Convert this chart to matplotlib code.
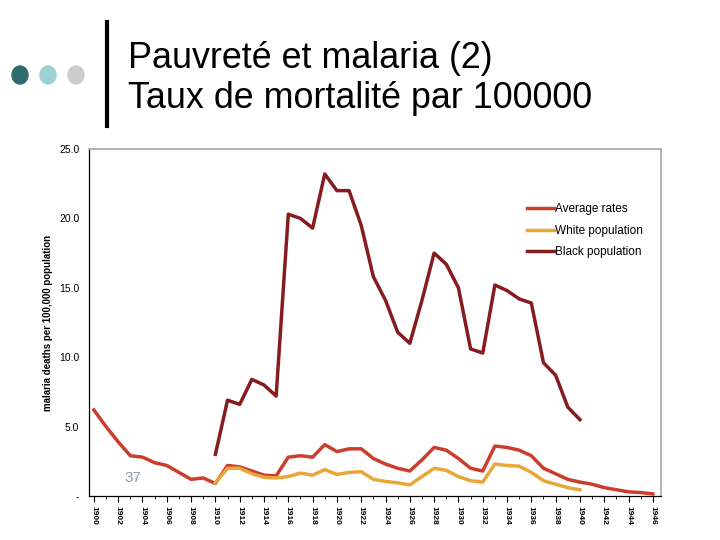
import numpy as np
import matplotlib.pyplot as plt
from matplotlib.patches import Ellipse
from matplotlib.lines import Line2D

plt.rcParams['font.family'] = ['Liberation Sans', 'DejaVu Sans']

years_avg = list(range(1900, 1947))
avg_rates = [6.2, 5.0, 3.9, 2.9, 2.8, 2.4, 2.2, 1.7, 1.2, 1.3,
             0.9, 2.2, 2.1, 1.8, 1.5, 1.45, 2.8, 2.9, 2.8, 3.7,
             3.2, 3.4, 3.4, 2.7, 2.3, 2.0, 1.8, 2.6, 3.5, 3.3,
             2.7, 2.0, 1.8, 3.6, 3.5, 3.3, 2.9, 2.0, 1.6, 1.2,
             1.0, 0.85, 0.6, 0.45, 0.3, 0.25, 0.15]

years_pop = list(range(1910, 1941))
white_pop = [0.95, 2.0, 2.0, 1.6, 1.35, 1.3, 1.4, 1.65, 1.5, 1.9,
             1.55, 1.7, 1.75, 1.2, 1.05, 0.95, 0.8, 1.4, 2.0, 1.85,
             1.4, 1.1, 1.0, 2.3, 2.2, 2.15, 1.7, 1.1, 0.85, 0.6,
             0.45]
black_pop = [3.0, 6.9, 6.6, 8.4, 8.0, 7.2, 20.3, 20.0, 19.3, 23.2,
             22.0, 22.0, 19.5, 15.8, 14.1, 11.8, 11.0, 14.1, 17.5, 16.7,
             15.0, 10.6, 10.3, 15.2, 14.8, 14.2, 13.9, 9.6, 8.7, 6.4,
             5.5]

yticks = [0, 5, 10, 15, 20, 25]
ytick_labels = ['-', '5.0', '10.0', '15.0', '20.0', '25.0']
xtick_major = list(range(1900, 1947, 2))

c_avg = '#cc3d2e'
c_white = '#e8a838'
c_black = '#861c1f'

fig = plt.figure(figsize=(7.2, 5.4), dpi=100)

# slide header decorations
deco = fig.add_axes([0, 0, 1, 1])
deco.set_xlim(0, 720)
deco.set_ylim(540, 0)
deco.axis('off')
for cx, col in [(20, '#2f6a6d'), (48, '#9fd0d4'), (76, '#cccccc')]:
    deco.add_patch(Ellipse((cx, 75), 16, 18, color=col))
deco.add_line(Line2D([107, 107], [22, 126], color='black', lw=3))
deco.text(128, 58, 'Pauvreté et malaria (2)', fontsize=25.8, va='center', ha='left')
deco.text(128, 99, 'Taux de mortalité par 100000', fontsize=25.8, va='center', ha='left')

ax = fig.add_axes([89/720, 44/540, 572/720, 347/540])
ax.plot(years_avg, avg_rates, color=c_avg, lw=2.5, label='Average rates')
ax.plot(years_pop, white_pop, color=c_white, lw=2.5, label='White population')
ax.plot(years_pop, black_pop, color=c_black, lw=2.5, label='Black population')

ax.set_xlim(1899.6, 1946.67)
ax.set_ylim(0, 25)
ax.set_yticks(yticks)
ax.set_yticklabels(ytick_labels, fontsize=7.5)
ax.set_xticks(xtick_major)
ax.set_xticklabels([str(y) for y in xtick_major], rotation=270, fontsize=6,
                   fontweight='bold')
ax.set_xticks(range(1900, 1947), minor=True)
ax.tick_params(axis='y', length=0, pad=7)
ax.tick_params(axis='x', which='major', length=4, width=0.8, pad=3)
ax.tick_params(axis='x', which='minor', length=2, width=0.6)

ax.set_ylabel('malaria deaths per 100,000 population', fontsize=7,
              fontweight='bold', labelpad=4)

for s in ['top', 'right']:
    ax.spines[s].set_color('#a8a8a8')
    ax.spines[s].set_linewidth(1.2)
for s in ['left', 'bottom']:
    ax.spines[s].set_color('black')
    ax.spines[s].set_linewidth(0.9)

leg = ax.legend(loc='upper left', bbox_to_anchor=(527/720, 1 - 203/540),
                bbox_transform=fig.transFigure, frameon=False, fontsize=8.5,
                handlelength=2.3, handletextpad=0.1, labelspacing=0.82,
                borderpad=0, borderaxespad=0)

fig.text(133/720, 1 - 478/540, '37', fontsize=11, color='#8a9ba5',
         ha='center', va='center')

fig.savefig('out.png', dpi=100)
